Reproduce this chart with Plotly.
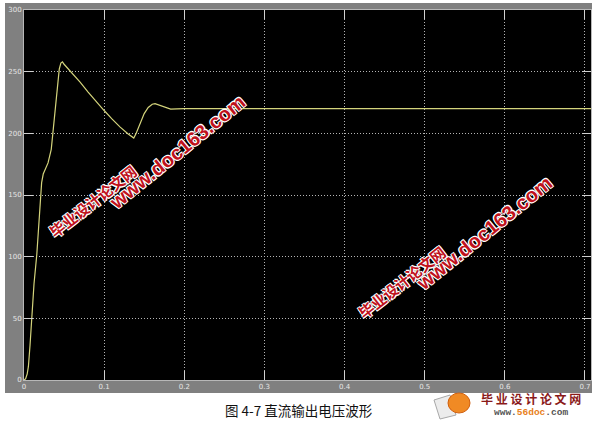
import plotly.graph_objects as go

# Data
t = [0, 0.002, 0.004, 0.0055, 0.0075, 0.0096, 0.0125, 0.016, 0.02, 0.022, 0.024, 0.027,
     0.030, 0.034, 0.037, 0.040, 0.042, 0.044, 0.046, 0.048, 0.050, 0.060, 0.070, 0.080,
     0.090, 0.100, 0.110, 0.120, 0.130, 0.135, 0.137, 0.140, 0.145, 0.150, 0.155, 0.160,
     0.1635, 0.168, 0.175, 0.183, 0.191, 0.200, 0.7075]
v = [0, 1, 5, 11, 28, 51, 78, 102, 146, 160, 167, 172,
     176, 187, 208, 230, 241, 252, 257, 258, 256, 249, 241.5, 233.5,
     225.7, 218.5, 211.5, 205, 199.5, 196.8, 196.2, 200, 208, 216, 221, 223.6,
     224, 223, 221, 219.7, 219.8, 220, 220]

x_ticks = [0, 0.1, 0.2, 0.3, 0.4, 0.5, 0.6, 0.7]
x_labels = ["0", "0.1", "0.2", "0.3", "0.4", "0.5", "0.6", "0.7"]
y_ticks = [0, 50, 100, 150, 200, 250, 300]
y_labels = ["0", "50", "100", "150", "200", "250", "300"]

caption = "图 4-7 直流输出电压波形"
wm_cn = "毕业设计论文网"
wm_url = "www.doc163.com"

W, H = 600, 423
L, R, T, B = 24, 9, 10, 43
pw, ph = W - L - R, H - T - B


def px(xp):
    return (xp - L) / pw


def py(yp):
    return (H - B - yp) / ph


fig = go.Figure()
fig.add_trace(go.Scatter(x=t, y=v, mode="lines",
                         line=dict(color="#d4d47c", width=1.2),
                         hoverinfo="skip", showlegend=False))

axis_common = dict(
    showgrid=True, gridcolor="#b4b4b4", griddash="1px,2px", gridwidth=1,
    zeroline=False, showline=True, linecolor="#b8b8b8", linewidth=1,
    mirror="ticks", ticks="inside", ticklen=9, tickcolor="#d0d0d0", tickwidth=1,
    tickfont=dict(family="DejaVu Sans", size=7, color="#e6e6e6"),
    automargin=False,
)
fig.update_xaxes(range=[0, 0.7075], tickvals=x_ticks, ticktext=x_labels, **axis_common)
fig.update_yaxes(range=[0, 300], tickvals=y_ticks, ticktext=y_labels, **axis_common)

shapes = [
    # grey scope frame
    dict(type="rect", xref="paper", yref="paper", layer="below",
         x0=px(5), x1=px(592), y0=py(393), y1=py(3),
         fillcolor="#808080", line=dict(width=0)),
    # black plot area
    dict(type="rect", xref="paper", yref="paper", layer="below",
         x0=0, x1=1, y0=0, y1=1, fillcolor="#000000", line=dict(width=0)),
    # logo: paper sheet
    dict(type="path", xref="paper", yref="paper", layer="above",
         path=f"M {px(434)},{py(400)} L {px(450)},{py(395)} L {px(456)},{py(415)} L {px(440)},{py(419)} Z",
         fillcolor="#ececec", line=dict(color="#a8a8a8", width=1)),
    # logo: orange ball
    dict(type="circle", xref="paper", yref="paper", layer="above",
         x0=px(448), x1=px(470), y0=py(413), y1=py(393),
         fillcolor="#f08a24", line=dict(color="#d06010", width=1)),
]

shadow = "1px 1px 0 #fff, -1px -1px 0 #fff, 1px -1px 0 #fff, -1px 1px 0 #fff"
ctr = dict(xref="paper", yref="paper", xanchor="center", yanchor="middle", showarrow=False)
annotations = [
    dict(text=caption, x=px(299), y=py(410),
         font=dict(family="Noto Sans CJK SC", size=13.5, color="#111111"), **ctr),
    dict(text=wm_cn, x=px(92), y=py(201), textangle=-38,
         font=dict(family="Noto Sans CJK SC", size=15, color="#c0121c",
                   weight="bold", shadow=shadow), **ctr),
    dict(text=wm_url, x=px(177), y=py(152), textangle=-39,
         font=dict(family="Liberation Sans", size=20, color="#c0121c",
                   weight="bold", shadow=shadow), **ctr),
    dict(text=wm_cn, x=px(401), y=py(282), textangle=-38,
         font=dict(family="Noto Sans CJK SC", size=15, color="#c0121c",
                   weight="bold", shadow=shadow), **ctr),
    dict(text=wm_url, x=px(484), y=py(233), textangle=-39,
         font=dict(family="Liberation Sans", size=20, color="#c0121c",
                   weight="bold", shadow=shadow), **ctr),
    dict(text="毕 业 设 计 论 文 网", x=px(531), y=py(398),
         font=dict(family="Noto Sans CJK SC", size=12, color="#8a1a1a", weight="bold"), **ctr),
    dict(text="<b>www.<span style='color:#e8801a'>56doc</span>.com</b>",
         x=px(531), y=py(412),
         font=dict(family="Liberation Mono", size=9.5, color="#555555"), **ctr),
]

fig.update_layout(
    width=W, height=H, autosize=False,
    margin=dict(l=L, r=R, t=T, b=B),
    paper_bgcolor="#ffffff", plot_bgcolor="#000000",
    shapes=shapes, annotations=annotations, showlegend=False,
)

fig.write_html("out.html", config={"displayModeBar": False},
               post_script="document.body.style.margin='0';document.body.style.padding='0';")
